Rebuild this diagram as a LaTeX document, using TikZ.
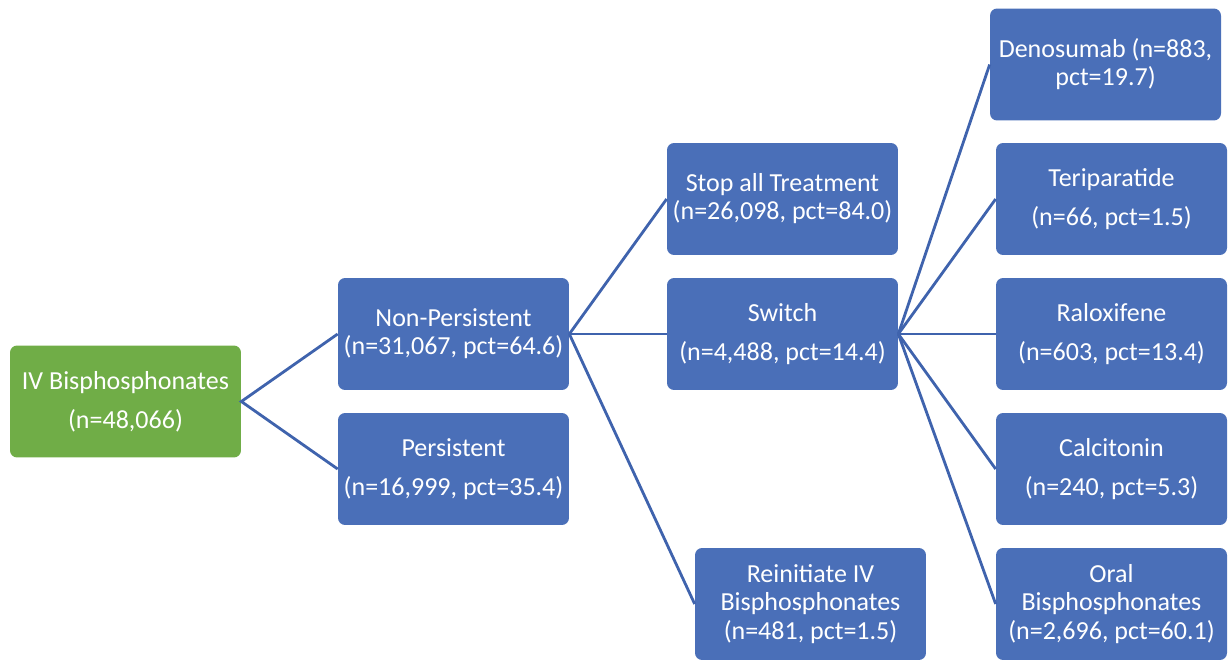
\documentclass[tikz,border=0pt]{standalone}
\usepackage{fontspec}
\setmainfont{Carlito}
\usetikzlibrary{positioning}
\definecolor{boxblue}{HTML}{4A6FB8}
\definecolor{lineblue}{HTML}{3F63AD}
\definecolor{boxgreen}{HTML}{70AD47}

\begin{document}
\begin{tikzpicture}[
    x=0.02cm, y=-0.02cm,
    every node/.style={font=\fontsize{14.8}{16}\selectfont},
    box/.style={fill=boxblue, text=white, rounded corners=4pt, inner sep=2pt,
                minimum width=4.62cm, minimum height=2.24cm, align=center},
    rootbox/.style={box, fill=boxgreen},
    link/.style={draw=lineblue, line width=1.6pt}
]
    \clip (0,0) rectangle (1229,659);
    \useasboundingbox (0,0) rectangle (1229,659);

    \node[rootbox] (iv) at (125.5, 401.5) {IV Bisphosphonates\\[6pt](n=48,066)};

    % Level 1
    \node[box] (nonpers) at (453.5, 334) {Non-Persistent\\(n=31,067, pct=64.6)};
    \node[box] (pers)    at (453.5, 469) {Persistent\\[6pt](n=16,999, pct=35.4)};

    % Level 2
    \node[box] (stop)    at (782.5, 199) {Stop all Treatment\\(n=26,098, pct=84.0)};
    \node[box] (switch)  at (782.5, 334) {Switch\\[6pt](n=4,488, pct=14.4)};
    \node[box] (reinit)  at (810.5, 604) {Reinitiate IV\\Bisphosphonates\\(n=481, pct=1.5)};

    % Level 3
    \node[box] (deno)    at (1105.5, 64.5) {Denosumab (n=883,\\pct=19.7)};
    \node[box] (teri)    at (1111.5, 199) {Teriparatide\\[6pt](n=66, pct=1.5)};
    \node[box] (ralox)   at (1111.5, 334) {Raloxifene\\[6pt](n=603, pct=13.4)};
    \node[box] (calci)   at (1111.5, 469) {Calcitonin\\[6pt](n=240, pct=5.3)};
    \node[box] (oral)    at (1111.5, 604) {Oral\\Bisphosphonates\\(n=2,696, pct=60.1)};

    \draw[link] (nonpers.west) -- (iv.east) -- (pers.west);
    \draw[link] (nonpers.east) -- (stop.west);
    \draw[link] (nonpers.east) -- (switch.west);
    \draw[link] (nonpers.east) -- (reinit.west);
    \foreach \n in {deno, teri, ralox, calci, oral}
        \draw[link] (switch.east) -- (\n.west);
\end{tikzpicture}
\end{document}
